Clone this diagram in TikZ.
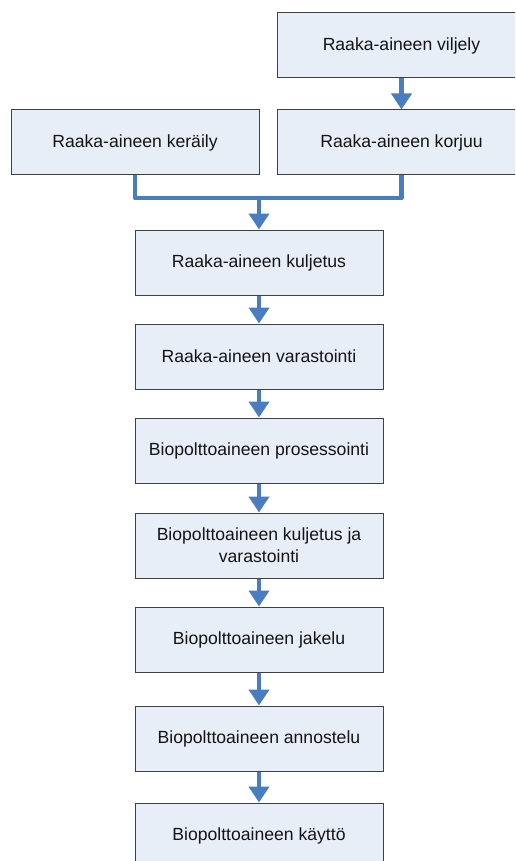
\documentclass[tikz,border=0pt]{standalone}
\usepackage{fontspec}
\setmainfont{Liberation Sans}
\usetikzlibrary{arrows.meta}
\definecolor{boxfill}{RGB}{232,238,248}
\definecolor{boxline}{RGB}{64,64,64}
\definecolor{flowblue}{RGB}{74,124,192}
\definecolor{textcol}{RGB}{20,20,20}
\tikzset{
  stepbox/.style={draw=boxline, line width=1pt, fill=boxfill,
    minimum width=248pt, minimum height=65pt, inner sep=0pt,
    align=center, text=textcol, font=\fontsize{17.6}{22}\selectfont},
  flowline/.style={draw=flowblue, line width=4.8pt, line join=round},
  flowarrow/.style={flowline, -{Triangle[width=20pt,length=16pt]}}
}
\begin{document}
\begin{tikzpicture}[x=1pt,y=-1pt]
\useasboundingbox (0,0) rectangle (515,861);
\clip (0,0) rectangle (515,861);
% upper branch boxes
\node[stepbox, minimum width=249pt] (viljely) at (401.5,45.5) {Raaka-aineen viljely};
\node[stepbox] (keraily) at (135,142.5) {Raaka-aineen keräily};
\node[stepbox, minimum width=249pt] (korjuu) at (401.5,142.5) {Raaka-aineen korjuu};
% main chain
\node[stepbox] (kuljetus) at (259,262.5) {Raaka-aineen kuljetus};
\node[stepbox] (varastointi) at (259,356.5) {Raaka-aineen varastointi};
\node[stepbox] (prosessointi) at (259,450.5) {Biopolttoaineen prosessointi};
\node[stepbox] (biokulj) at (259,545.5) {Biopolttoaineen kuljetus ja\\varastointi};
\node[stepbox] (jakelu) at (259,639.5) {Biopolttoaineen jakelu};
\node[stepbox] (annostelu) at (259,738.5) {Biopolttoaineen annostelu};
\node[stepbox] (kaytto) at (259,835.5) {Biopolttoaineen käyttö};
% junction where both branches merge
\coordinate (join) at (259,198);
% connectors
\draw[flowarrow] (viljely.south) -- (korjuu.north);
\draw[flowline] (keraily.south) |- (join);
\draw[flowline] (korjuu.south) |- (join);
\draw[flowarrow] (join) -- (kuljetus.north);
\draw[flowarrow] (kuljetus.south) -- (varastointi.north);
\draw[flowarrow] (varastointi.south) -- (prosessointi.north);
\draw[flowarrow] (prosessointi.south) -- (biokulj.north);
\draw[flowarrow] (biokulj.south) -- (jakelu.north);
\draw[flowarrow] (jakelu.south) -- (annostelu.north);
\draw[flowarrow] (annostelu.south) -- (kaytto.north);
\end{tikzpicture}
\end{document}
